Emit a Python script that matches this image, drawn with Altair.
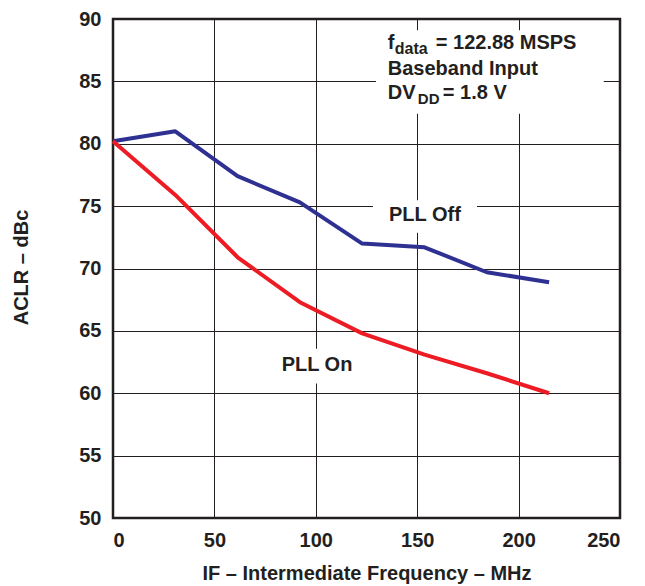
import altair as alt
import pandas as pd

# ---- data ----
freq_mhz = [0, 30.72, 61.44, 92.16, 122.88, 153.6, 184.32, 215.04]
aclr_pll_off = [80.2, 81.0, 77.4, 75.3, 72.0, 71.7, 69.7, 68.9]
aclr_pll_on = [80.2, 75.9, 70.9, 67.3, 64.8, 63.1, 61.6, 60.0]

x_ticks = [0, 50, 100, 150, 200, 250]
y_ticks = [50, 55, 60, 65, 70, 75, 80, 85, 90]

FONT = "Liberation Sans"
INK = "#231f20"
BLUE = "#2e3192"
RED = "#ed1c24"

df = pd.DataFrame({
    "freq": freq_mhz * 2,
    "aclr": aclr_pll_off + aclr_pll_on,
    "series": ["PLL Off"] * len(freq_mhz) + ["PLL On"] * len(freq_mhz),
})

xs = alt.Scale(domain=[0, 250], nice=False, zero=False)
ys = alt.Scale(domain=[50, 90], nice=False, zero=False)

x_axis = alt.Axis(values=x_ticks, title="IF – Intermediate Frequency – MHz",
                  grid=True, ticks=False, domain=False, labelPadding=12,
                  titleY=61, titleBaseline="alphabetic")
y_axis = alt.Axis(values=y_ticks, title="ACLR – dBc",
                  grid=True, ticks=False, domain=False, labelPadding=12,
                  titleX=-92, titleY=248, titleAngle=-90,
                  titleBaseline="middle", titleAlign="center")

# white boxes behind the annotations (data coordinates)
boxes = pd.DataFrame({
    "x0": [129.7, 128.2, 79.9],
    "x1": [242.0, 179.5, 121.8],
    "y0": [82.4, 72.86, 60.79],
    "y1": [89.1, 75.48, 63.57],
})

lines = alt.Chart(df).mark_line(strokeWidth=4, strokeJoin="round", strokeCap="butt").encode(
    x=alt.X("freq:Q", scale=xs, axis=x_axis),
    y=alt.Y("aclr:Q", scale=ys, axis=y_axis),
    color=alt.Color("series:N", scale=alt.Scale(domain=["PLL Off", "PLL On"], range=[BLUE, RED]), legend=None),
)

rects = alt.Chart(boxes).mark_rect(color="white").encode(
    x=alt.X("x0:Q", scale=xs), x2="x1:Q",
    y=alt.Y("y0:Q", scale=ys), y2="y1:Q",
)

layers = [rects, lines]

# series labels
series_labels = pd.DataFrame({"text": ["PLL Off", "PLL On"], "x": [153.8, 100.6], "y": [74.29, 62.3]})
layers.append(
    alt.Chart(series_labels).mark_text(font=FONT, fontSize=20, fontWeight="bold", color=INK,
                                       align="center", baseline="middle").encode(
        x=alt.X("x:Q", scale=xs), y=alt.Y("y:Q", scale=ys), text="text:N")
)

# condition box text pieces: (text, y, dx, dy, size)
note_x = 135.5
note_y = [87.6, 85.55, 83.55]
pieces = [
    ("f", note_y[0], 0, 0, 20),
    ("data", note_y[0], 7, 5, 16),
    ("= 122.88 MSPS", note_y[0], 48, 0, 20),
    ("Baseband Input", note_y[1], 0, 0, 20),
    ("DV", note_y[2], 0, 0, 20),
    ("DD", note_y[2], 30, 5, 15),
    ("= 1.8 V", note_y[2], 55, 0, 20),
]
for txt, yy, dx, dy, size in pieces:
    d = pd.DataFrame({"text": [txt], "x": [note_x], "y": [yy]})
    layers.append(
        alt.Chart(d).mark_text(font=FONT, fontSize=size, fontWeight="bold", color=INK,
                               align="left", baseline="alphabetic", dx=dx, dy=dy).encode(
            x=alt.X("x:Q", scale=xs), y=alt.Y("y:Q", scale=ys), text="text:N")
    )

chart = alt.layer(*layers).properties(
    width=507, height=499,
    background="white",
    autosize=alt.AutoSizeParams(type="none"),
    padding={"left": 105, "top": 11, "right": 15, "bottom": 70},
).configure_view(
    stroke=INK, strokeWidth=2.5
).configure_axis(
    gridColor=INK, gridOpacity=1, gridWidth=1,
    labelFont=FONT, labelFontSize=20, labelFontWeight="bold", labelColor=INK,
    titleFont=FONT, titleFontSize=20, titleFontWeight="bold", titleColor=INK,
)

chart.save("out.html", embed_options={"renderer": "svg", "actions": False})
